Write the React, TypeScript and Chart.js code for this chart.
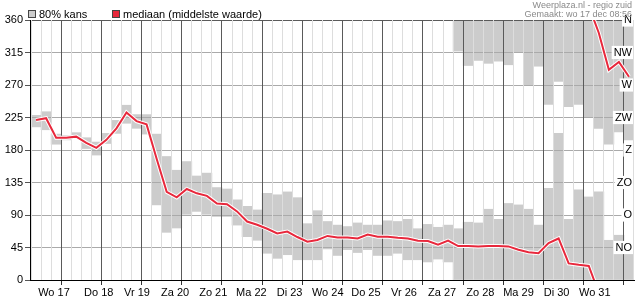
import React, { useEffect, useRef } from 'react';
import { Chart, registerables } from 'chart.js';

Chart.register(...registerables);

// ---- data -------------------------------------------------------------
const dayLabels = ['Wo 17', 'Do 18', 'Vr 19', 'Za 20', 'Zo 21', 'Ma 22', 'Di 23', 'Wo 24', 'Do 25', 'Vr 26', 'Za 27', 'Zo 28', 'Ma 29', 'Di 30', 'Wo 31'];
const degreeTicks = [0, 45, 90, 135, 180, 225, 270, 315, 360];
const compassTicks = [45, 90, 135, 180, 225, 270, 315, 360];
const compassLabels = ['NO', 'O', 'ZO', 'Z', 'ZW', 'W', 'NW', 'N'];
const legendLabels = ['80% kans', 'mediaan (middelste waarde)'];
const sourceText = 'Weerplaza.nl - regio zuid';
const madeText = 'Gemaakt: wo 17 dec 08:56';

// time steps: hours after Wo 17 00:00, every 6 hours
const firstHour = 6;
const stepHours = 6;

// 80% band (degrees). When low > high the band wraps through north (360/0).
const bandLow = [212, 208, 188, 194, 196, 182, 173, 189, 203, 217, 210, 202,
  104, 66, 72, 91, 95, 91, 88, 88, 76, 60, 55, 37,
  30, 35, 28, 28, 28, 43, 34, 42, 38, 42, 34, 34,
  37, 28, 28, 25, 29, 25,
  317, 297, 304, 300, 303, 298, 315, 270, 296, 243, 275, 240, 243, 226, 210, 188, 205, 194];
const bandHigh = [228, 233, 202, 200, 204, 197, 191, 203, 221, 242, 229, 229,
  202, 171, 152, 164, 144, 148, 128, 126, 111, 102, 97, 120,
  118, 122, 114, 78, 96, 81, 76, 74, 79, 76, 76, 82,
  81, 84, 71, 77, 73, 76,
  71, 80, 79, 98, 84, 106, 104, 98, 76, 127, 203, 84, 125, 115, 122, 55, 62, 50];
// median direction (degrees)
const median = [221.5, 224, 197, 197, 198.5, 190, 183, 194, 210, 232, 220, 215.5,
  168, 122, 114.5, 126, 120, 116.5, 106, 105, 95, 81, 76.5, 71,
  64.5, 67, 59.5, 53, 55.5, 61, 59, 59, 57.5, 63, 60, 60,
  58.5, 57.5, 54.5, 54, 49, 54.5,
  47, 47, 46.5, 47, 47, 46.5, 42, 38.5, 37, 51, 57.5, 23, 21, 19.5, 342, 291, 302, 281.5];

// ---- styling ----------------------------------------------------------
const FONT = '"Liberation Sans", Arial, Helvetica, sans-serif';
const bandColor = '#cccccc';
const lineColor = '#e8283c';
const dayLineColor = '#5a5a5a';
const minorLineColor = '#dddddd';
const hGridColor = '#aaaaaa';
const X_MIN = 5.4;
const X_MAX = 360;
const FIRST_LABEL_H = 7.8; // first (partial) day label sits near the left edge
const LABEL_OFFSET_H = 12; // other day labels at noon

const hours = median.map((_, i) => firstHour + i * stepHours);

function buildSegments(vals: number[]) {
  const segs: { x: number; y: number }[][] = [[]];
  vals.forEach((v, i) => {
    const cur = segs[segs.length - 1];
    if (i > 0 && Math.abs(v - vals[i - 1]) > 180) {
      const shift = v > vals[i - 1] ? -360 : 360;
      cur.push({ x: hours[i], y: v + shift });
      segs.push([{ x: hours[i - 1], y: vals[i - 1] - shift }, { x: hours[i], y: v }]);
    } else {
      cur.push({ x: hours[i], y: v });
    }
  });
  return segs;
}

const overlayPlugin = {
  id: 'overlay',
  beforeDraw(chart: any) {
    chart.$gridRedrawn = false;
  },
  beforeDatasetDraw(chart: any, args: any) {
    if (args.meta.type === 'line' && !chart.$gridRedrawn) {
      chart.$gridRedrawn = true;
      const ctx = chart.ctx;
      ctx.save();
      chart.scales.y.drawGrid(chart.chartArea);
      chart.scales.x.drawGrid(chart.chartArea);
      chart.scales.y.drawBorder();
      chart.scales.x.drawBorder();
      ctx.restore();
    }
  },
  afterDraw(chart: any) {
    const ctx = chart.ctx;
    ctx.save();
    // legend
    ctx.font = '11px ' + FONT;
    ctx.textBaseline = 'alphabetic';
    ctx.textAlign = 'left';
    const items = [
      { x: 28, color: bandColor, text: legendLabels[0] },
      { x: 112, color: lineColor, text: legendLabels[1] },
    ];
    items.forEach((it) => {
      ctx.fillStyle = it.color;
      ctx.fillRect(it.x + 0.5, 10.5, 7, 7);
      ctx.strokeStyle = '#444';
      ctx.lineWidth = 1;
      ctx.strokeRect(it.x + 0.5, 10.5, 7, 7);
      ctx.fillStyle = '#000';
      ctx.fillText(it.text, it.x + 11, 17.5);
    });
    // source / created
    ctx.font = '9px ' + FONT;
    ctx.fillStyle = '#8a8a8a';
    ctx.textAlign = 'right';
    ctx.fillText(sourceText, 632, 7.5);
    ctx.fillText(madeText, 632, 17);
    ctx.restore();
  },
};

export default function App() {
  const ref = useRef<HTMLCanvasElement>(null);

  useEffect(() => {
    if (!ref.current) return;
    const lowerBand = hours.map((h, i) => ({
      x: h,
      y: bandLow[i] > bandHigh[i] ? [0, bandHigh[i]] : [bandLow[i], bandHigh[i]],
    }));
    const upperBand = hours
      .map((h, i) => (bandLow[i] > bandHigh[i] ? { x: h, y: [bandLow[i], 360] } : null))
      .filter((p) => p !== null);

    const segs = buildSegments(median);
    const lineSets: any[] = [];
    segs.forEach((seg) => {
      lineSets.push({
        type: 'line', label: legendLabels[1], data: seg, borderColor: lineColor, borderWidth: 2,
        pointRadius: 0, tension: 0, clip: 0, order: 0, xAxisID: 'x', yAxisID: 'y',
      });
    });
    segs.forEach((seg) => {
      lineSets.push({
        type: 'line', label: 'halo', data: seg, borderColor: '#ffffff', borderWidth: 4,
        pointRadius: 0, tension: 0, clip: 0, order: 1, xAxisID: 'x', yAxisID: 'y',
      });
    });

    const tickFont = { family: FONT, size: 11 };

    const chart = new Chart(ref.current, {
      type: 'bar',
      data: {
        datasets: [
          ...lineSets,
          {
            type: 'bar', label: legendLabels[0], data: lowerBand as any, backgroundColor: bandColor,
            borderWidth: 0, barPercentage: 1, categoryPercentage: 1, grouped: false, order: 2,
            xAxisID: 'x', yAxisID: 'y',
          },
          {
            type: 'bar', label: legendLabels[0], data: upperBand as any, backgroundColor: bandColor,
            borderWidth: 0, barPercentage: 1, categoryPercentage: 1, grouped: false, order: 2,
            xAxisID: 'x', yAxisID: 'y',
          },
        ] as any,
      },
      options: {
        responsive: false,
        animation: false,
        events: [],
        layout: { padding: { top: 20, right: 1, bottom: 0, left: 0 } },
        plugins: { legend: { display: false }, tooltip: { enabled: false } },
        scales: {
          x: {
            type: 'linear', position: 'bottom', min: X_MIN, max: X_MAX, weight: 0,
            afterBuildTicks: (s: any) => { s.ticks = hours.map((h) => ({ value: h })); },
            ticks: { display: false },
            grid: {
              color: (c: any) => (c.tick && c.tick.value % 24 === 0 ? dayLineColor : minorLineColor),
              tickColor: (c: any) => (c.tick && c.tick.value % 24 === 0 ? '#333' : 'rgba(0,0,0,0)'),
              tickLength: 5,
              lineWidth: 1,
            },
            border: { color: '#000', width: 1 },
            afterFit: (s: any) => { s.height = 5; },
          },
          xl: {
            type: 'linear', position: 'bottom', min: X_MIN, max: X_MAX, weight: 1,
            afterBuildTicks: (s: any) => {
              s.ticks = dayLabels.map((_, i) => ({ value: i === 0 ? FIRST_LABEL_H : i * 24 + LABEL_OFFSET_H }));
            },
            ticks: {
              autoSkip: false, maxRotation: 0, minRotation: 0, padding: 1, color: '#000', font: tickFont,
              callback: (_v: any, i: number) => dayLabels[i],
            },
            grid: { display: false, drawTicks: false },
            border: { display: false },
            afterFit: (s: any) => { s.height = 15; },
          },
          y: {
            type: 'linear', position: 'left', min: 0, max: 360,
            afterBuildTicks: (s: any) => { s.ticks = degreeTicks.map((v) => ({ value: v })); },
            ticks: { color: '#000', font: tickFont, padding: 2 },
            grid: {
              color: (c: any) => (c.tick && c.tick.value === 360 ? dayLineColor : hGridColor),
              tickColor: '#555',
              tickLength: 5,
              lineWidth: 1,
            },
            border: { color: '#000', width: 1 },
            afterFit: (s: any) => { s.width = 30; },
          },
          y2: {
            type: 'linear', position: 'right', min: 0, max: 360,
            afterBuildTicks: (s: any) => { s.ticks = compassTicks.map((v) => ({ value: v })); },
            ticks: {
              mirror: true, padding: -2, color: '#000', font: tickFont, z: 2,
              showLabelBackdrop: true, backdropColor: '#ffffff',
              backdropPadding: { top: 0, bottom: 0, left: 2, right: 1 },
              callback: (_v: any, i: number) => compassLabels[i],
            },
            grid: { display: false, drawTicks: false },
            border: { display: false },
            afterFit: (s: any) => { s.width = 0; },
          },
        } as any,
      },
      plugins: [overlayPlugin],
    });
    return () => chart.destroy();
  }, []);

  return (
    <div style={{ position: 'fixed', left: 0, top: 0, width: 635, height: 300, background: '#fff' }}>
      <canvas ref={ref} width={635} height={300} style={{ display: 'block', width: 635, height: 300 }} />
    </div>
  );
}
